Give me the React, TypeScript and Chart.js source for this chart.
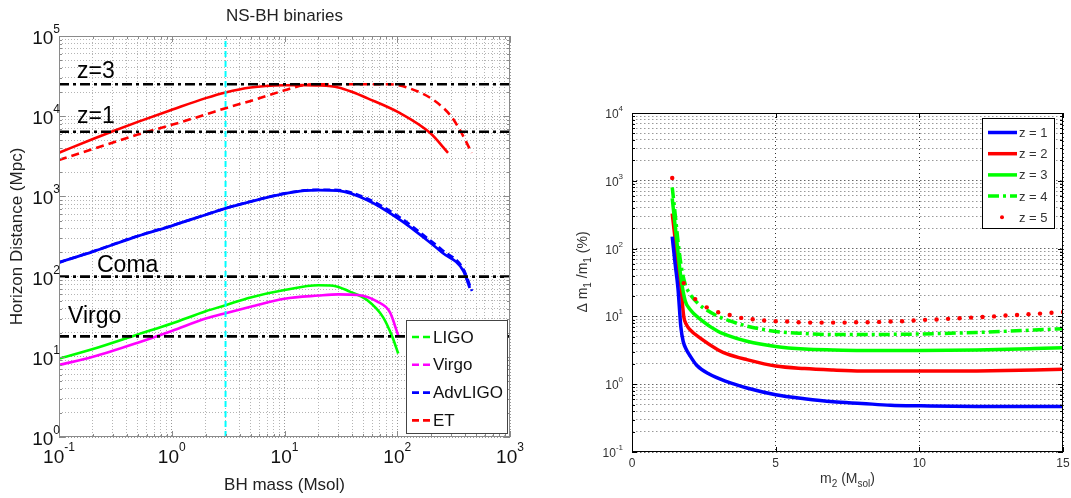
import React, { useEffect, useRef } from 'react';
import { Chart, registerables } from 'chart.js';

Chart.register(...registerables);

const FONT = '"Liberation Sans", Arial, Helvetica, sans-serif';

// ---------------- Left panel: NS-BH binaries ----------------
const leftTitle = 'NS-BH binaries';
const leftXLabel = 'BH mass (Msol)';
const leftYLabel = 'Horizon Distance (Mpc)';
const leftXExps = [-1, 0, 1, 2, 3];
const leftYExps = [0, 1, 2, 3, 4, 5];

// ET (red)
const etSolidMass = [0.1, 0.2, 0.3, 0.5, 1, 2, 3, 5, 10, 15, 20, 30, 40, 54, 106, 195, 282];
const etSolidDist = [3500, 5200, 6500, 8500, 12000, 16800, 19800, 22800, 24300, 24400, 24200, 22800, 20000, 16800, 10900, 6200, 3500];
const etDashMass = [0.1, 0.2, 0.5, 1, 2, 3, 5, 10, 15, 20, 50, 86, 120, 210, 300, 360, 458];
const etDashDist = [2850, 3900, 5900, 7800, 10500, 12600, 15500, 21000, 24500, 25000, 25000, 25000, 23000, 15900, 10000, 6700, 3500];

// AdvLIGO (blue)
const advSolidMass = [0.1, 0.2, 0.5, 1, 2, 3, 5, 10, 15, 20, 30, 54, 106, 183, 250, 385, 440];
const advSolidDist = [150, 205, 320, 430, 590, 710, 860, 1080, 1180, 1200, 1180, 900, 510, 286, 200, 118, 72];
const advDashMass = [0.1, 0.2, 0.5, 1, 2, 3, 5, 10, 15, 20, 30, 54, 106, 183, 250, 385, 460];
const advDashDist = [150, 206, 322, 432, 592, 712, 865, 1090, 1190, 1210, 1200, 940, 545, 305, 215, 125, 66];

// LIGO (green) and Virgo (magenta)
const ligoMass = [0.1, 0.2, 0.5, 1, 2, 3, 5, 10, 20, 27, 38, 54, 75, 90, 102];
const ligoDist = [9.5, 12.5, 19, 26, 37, 44, 55, 68, 78, 77, 65, 51, 31, 18, 11];
const virgoMass = [0.1, 0.2, 0.5, 1, 2, 3, 5, 10, 20, 30, 45, 66, 86, 102];
const virgoDist = [7.9, 10, 15, 21, 30, 35, 42, 53, 58, 60, 59, 49, 36, 18.5];

// Reference distances
const refNames = ['z=3', 'z=1', 'Coma', 'Virgo'];
const refDist = [25000, 6400, 100, 18];
const cutMass = 3;

const leftLegendNames = ['LIGO', 'Virgo', 'AdvLIGO', 'ET'];
const leftLegendColors = ['#00ff00', '#ff00ff', '#0000ff', '#ff0000'];

// ---------------- Right panel ----------------
const rightXLabelSegs = [{ t: 'm' }, { t: '2', sub: true }, { t: ' (M' }, { t: 'sol', sub: true }, { t: ')' }];
const rightYLabelSegs = [{ t: '\u0394 m' }, { t: '1', sub: true }, { t: ' /m' }, { t: '1', sub: true }, { t: ' (%)' }];
const rightXTicks = [0, 5, 10, 15];
const rightYExps = [-1, 0, 1, 2, 3, 4];

const z1M2 = [1.4, 1.5, 1.6, 1.7, 1.78, 1.9, 2.0, 2.25, 2.7, 3.3, 4, 5, 6, 7, 8, 9, 10, 12, 15];
const z1Err = [150, 60, 26, 7, 4.3, 3.2, 2.7, 1.9, 1.4, 1.09, 0.88, 0.7, 0.61, 0.55, 0.52, 0.49, 0.48, 0.47, 0.47];
const z2M2 = [1.4, 1.5, 1.6, 1.7, 1.8, 1.9, 2.0, 2.4, 3.0, 3.3, 4, 5, 6, 7, 8, 10, 12, 14, 15];
const z2Err = [330, 140, 55, 28, 10, 7.5, 6.5, 4.7, 3.2, 2.8, 2.3, 1.85, 1.7, 1.62, 1.57, 1.56, 1.57, 1.62, 1.66];
const z3M2 = [1.4, 1.5, 1.6, 1.7, 1.85, 2.0, 2.4, 3.0, 3.3, 4, 5, 6, 7, 8, 10, 12, 14, 15];
const z3Err = [550, 220, 90, 38, 17, 13, 8.9, 6.0, 5.3, 4.3, 3.6, 3.3, 3.2, 3.15, 3.15, 3.2, 3.35, 3.45];
const z4M2 = [1.4, 1.5, 1.6, 1.7, 1.85, 2.0, 2.3, 2.6, 3.0, 3.3, 4, 5, 6, 7, 8, 10, 12, 14, 15];
const z4Err = [800, 330, 130, 60, 30, 22, 15.5, 12.4, 10, 8.9, 7.2, 6.0, 5.6, 5.4, 5.4, 5.5, 5.8, 6.3, 6.6];
const z5M2 = [1.4, 1.8, 2.2, 2.6, 3.0, 3.4, 3.8, 4.2, 4.6, 5.0, 5.4, 5.8, 6.2, 6.6, 7.0, 7.4, 7.8, 8.2, 8.6, 9.0, 9.4, 9.8, 10.2, 10.6, 11.0, 11.4, 11.8, 12.2, 12.6, 13.0, 13.4, 13.8, 14.2, 14.6, 15.0];
const z5Err = [1100, 31, 18, 13.6, 11.5, 10.5, 9.5, 9.1, 8.7, 8.5, 8.4, 8.2, 8.1, 8.1, 8.1, 8.1, 8.2, 8.2, 8.3, 8.4, 8.5, 8.7, 8.9, 9.0, 9.2, 9.4, 9.6, 9.8, 10.0, 10.3, 10.5, 10.8, 11.0, 11.3, 11.6];

const rightLegendNames = ['z = 1', 'z = 2', 'z = 3', 'z = 4', 'z = 5'];
const rightLegendColors = ['#0000ff', '#ff0000', '#00ff00', '#00ff00', '#ff0000'];

// ---------------- helpers ----------------
const pts = (xs: number[], ys: number[]) => xs.map((x, i) => ({ x, y: ys[i] }));

function logTicks(exps: number[]) {
  const out: { value: number; major: boolean }[] = [];
  for (let i = 0; i < exps.length; i++) {
    const b = Math.pow(10, exps[i]);
    out.push({ value: b, major: true });
    if (i < exps.length - 1) for (let k = 2; k <= 9; k++) out.push({ value: k * b, major: false });
  }
  return out;
}

function drawPow(ctx: CanvasRenderingContext2D, e: number, x: number, y: number, align: string, big: number, small: number, raise: number) {
  const base = '10';
  const ex = String(e);
  ctx.font = `${big}px ${FONT}`;
  const wb = ctx.measureText(base).width;
  ctx.font = `${small}px ${FONT}`;
  const we = ctx.measureText(ex).width;
  let sx = x;
  if (align === 'center') sx = x - (wb + we) / 2;
  else if (align === 'right') sx = x - (wb + we);
  ctx.textAlign = 'left';
  ctx.textBaseline = 'alphabetic';
  ctx.font = `${big}px ${FONT}`;
  ctx.fillText(base, sx, y);
  ctx.font = `${small}px ${FONT}`;
  ctx.fillText(ex, sx + wb, y - raise);
}

function drawSegs(ctx: CanvasRenderingContext2D, segs: any[], x: number, y: number, size: number, small: number, drop: number) {
  const ws = segs.map((s) => {
    ctx.font = `${s.sub ? small : size}px ${FONT}`;
    return ctx.measureText(s.t).width;
  });
  const total = ws.reduce((a, b) => a + b, 0);
  let cx = x - total / 2;
  ctx.textAlign = 'left';
  ctx.textBaseline = 'alphabetic';
  segs.forEach((s, i) => {
    ctx.font = `${s.sub ? small : size}px ${FONT}`;
    ctx.fillText(s.t, cx, y + (s.sub ? drop : 0));
    cx += ws[i];
  });
}

function seg(ctx: CanvasRenderingContext2D, x1: number, y1: number, x2: number, y2: number) {
  ctx.beginPath();
  ctx.moveTo(x1, y1);
  ctx.lineTo(x2, y2);
  ctx.stroke();
}

const lineDs = (label: string, data: any[], color: string, width: number, dash: number[] = [], smooth = true) => ({
  label, data, borderColor: color, backgroundColor: color, borderWidth: width, borderDash: dash,
  showLine: true, pointRadius: 0, pointHoverRadius: 0, fill: false,
  cubicInterpolationMode: smooth ? 'monotone' : 'default', tension: 0,
});

// ---------------- left chart config ----------------
function leftConfig(): any {
  const datasets = [
    ...refDist.map((d, i) => lineDs(refNames[i], [{ x: 0.1, y: d }, { x: 1000, y: d }], '#000000', 2.6, [10, 4, 3, 4], false)),
    lineDs('cut', [{ x: cutMass, y: 1 }, { x: cutMass, y: 100000 }], '#00ffff', 2, [6, 4], false),
    lineDs('ET dashed', pts(etDashMass, etDashDist), '#ff0000', 2.6, [8, 5]),
    lineDs('ET', pts(etSolidMass, etSolidDist), '#ff0000', 2.6),
    lineDs('AdvLIGO dashed', pts(advDashMass, advDashDist), '#0000ff', 2.6, [7, 4]),
    lineDs('AdvLIGO', pts(advSolidMass, advSolidDist), '#0000ff', 2.8),
    lineDs('Virgo', pts(virgoMass, virgoDist), '#ff00ff', 2.6),
    lineDs('LIGO', pts(ligoMass, ligoDist), '#00ff00', 2.6),
  ];
  const gridColor = (c: any) => (c.tick && c.tick.major ? '#9a9a9a' : '#b4b4b4');
  const plugin = {
    id: 'leftDecor',
    afterDraw(chart: any) {
      const { ctx, chartArea: a, scales } = chart;
      const xs = scales.x, ys = scales.y;
      ctx.save();
      ctx.setLineDash([]);
      ctx.strokeStyle = '#8a8a8a';
      ctx.lineWidth = 1;
      ctx.strokeRect(a.left + 0.5, a.top + 0.5, a.right - a.left - 1, a.bottom - a.top - 1);
      xs.ticks.forEach((t: any) => {
        const px = Math.round(xs.getPixelForValue(t.value)) + 0.5;
        const len = t.major ? 6 : 3;
        seg(ctx, px, a.bottom, px, a.bottom - len);
        seg(ctx, px, a.top, px, a.top + len);
      });
      ys.ticks.forEach((t: any) => {
        const py = Math.round(ys.getPixelForValue(t.value)) + 0.5;
        const len = t.major ? 6 : 3;
        seg(ctx, a.left, py, a.left + len, py);
        seg(ctx, a.right, py, a.right - len, py);
      });
      ctx.fillStyle = '#111';
      leftXExps.forEach((e) => drawPow(ctx, e, xs.getPixelForValue(Math.pow(10, e)), a.bottom + 26, 'center', 19, 12, 12));
      leftYExps.forEach((e) => drawPow(ctx, e, a.left + 1, ys.getPixelForValue(Math.pow(10, e)) + 8, 'right', 19, 12, 11));
      ctx.fillStyle = '#222';
      ctx.textAlign = 'center';
      ctx.textBaseline = 'alphabetic';
      ctx.font = `17px ${FONT}`;
      ctx.fillText(leftTitle, (a.left + a.right) / 2, 21);
      ctx.font = `17px ${FONT}`;
      ctx.fillText(leftXLabel, (a.left + a.right) / 2, 490);
      ctx.save();
      ctx.translate(17, (a.top + a.bottom) / 2);
      ctx.rotate(-Math.PI / 2);
      ctx.textBaseline = 'middle';
      ctx.fillText(leftYLabel, 0, 0);
      ctx.restore();
      const dx = [18, 18, 38, 9];
      const dy = [-6, -9, -5, -13];
      ctx.fillStyle = '#000';
      ctx.font = `23px ${FONT}`;
      ctx.textAlign = 'left';
      refNames.forEach((n, i) => {
        ctx.fillText(n, a.left + dx[i], ys.getPixelForValue(refDist[i]) + dy[i]);
      });
      const lx = 406, ly = 320, lw = 101, lh = 113;
      ctx.fillStyle = '#fff';
      ctx.fillRect(lx, ly, lw, lh);
      ctx.strokeStyle = '#444';
      ctx.lineWidth = 1;
      ctx.strokeRect(lx + 0.5, ly + 0.5, lw, lh);
      ctx.font = `17px ${FONT}`;
      leftLegendNames.forEach((n, i) => {
        const yy = 337 + i * 27.8;
        ctx.strokeStyle = leftLegendColors[i];
        ctx.lineWidth = 2.6;
        ctx.setLineDash([7, 4]);
        seg(ctx, 412, yy, 431, yy);
        ctx.setLineDash([]);
        ctx.fillStyle = '#111';
        ctx.textBaseline = 'middle';
        ctx.fillText(n, 433, yy + 1);
      });
      ctx.restore();
    },
  };
  return {
    type: 'scatter',
    data: { datasets },
    plugins: [plugin],
    options: {
      responsive: false,
      animation: false,
      devicePixelRatio: 1,
      layout: { padding: { top: 36, right: 35, left: 0, bottom: 0 } },
      plugins: { legend: { display: false }, tooltip: { enabled: false }, title: { display: false } },
      scales: {
        x: {
          type: 'logarithmic', min: 0.1, max: 1000, position: 'bottom',
          afterBuildTicks: (s: any) => { s.ticks = logTicks(leftXExps); },
          afterFit: (s: any) => { s.height = 61; },
          ticks: { display: false },
          grid: { color: gridColor, lineWidth: 1, drawTicks: false, tickLength: 0 },
          border: { display: false, dash: [1, 2] },
        },
        y: {
          type: 'logarithmic', min: 1, max: 100000, position: 'left',
          afterBuildTicks: (s: any) => { s.ticks = logTicks(leftYExps); },
          afterFit: (s: any) => { s.width = 59; },
          ticks: { display: false },
          grid: { color: gridColor, lineWidth: 1, drawTicks: false, tickLength: 0 },
          border: { display: false, dash: [1, 2] },
        },
      },
    },
  };
}

// ---------------- right chart config ----------------
function rightConfig(): any {
  const datasets = [
    {
      label: 'z = 5', data: pts(z5M2, z5Err), showLine: false, pointRadius: 2.2, pointHoverRadius: 2.2,
      pointBackgroundColor: '#ff0000', pointBorderColor: '#ff0000', pointBorderWidth: 0, pointStyle: 'circle',
    },
    lineDs('z = 4', pts(z4M2, z4Err), '#00ff00', 3.5, [11, 4, 3, 4]),
    lineDs('z = 3', pts(z3M2, z3Err), '#00ff00', 3.5),
    lineDs('z = 1', pts(z1M2, z1Err), '#0000ff', 3.5),
    lineDs('z = 2', pts(z2M2, z2Err), '#ff0000', 3.5),
  ];
  const plugin = {
    id: 'rightDecor',
    afterDraw(chart: any) {
      const { ctx, chartArea: a, scales } = chart;
      const xs = scales.x, ys = scales.y;
      ctx.save();
      ctx.setLineDash([]);
      ctx.strokeStyle = '#000';
      ctx.lineWidth = 1;
      ctx.strokeRect(a.left + 0.5, a.top + 0.5, a.right - a.left - 1, a.bottom - a.top - 1);
      ys.ticks.forEach((t: any) => {
        const py = Math.round(ys.getPixelForValue(t.value)) + 0.5;
        const len = t.major ? 5 : 3;
        seg(ctx, a.left, py, a.left + len, py);
        seg(ctx, a.right, py, a.right - len, py);
      });
      xs.ticks.forEach((t: any) => {
        const px = Math.round(xs.getPixelForValue(t.value)) + 0.5;
        seg(ctx, px, a.bottom, px, a.bottom - 5);
        seg(ctx, px, a.top, px, a.top + 5);
      });
      ctx.fillStyle = '#333';
      rightYExps.forEach((e) => drawPow(ctx, e, a.left - 9, ys.getPixelForValue(Math.pow(10, e)) + 5, 'right', 12, 8, 7));
      ctx.font = `12px ${FONT}`;
      ctx.textAlign = 'center';
      ctx.textBaseline = 'alphabetic';
      rightXTicks.forEach((v) => ctx.fillText(String(v), xs.getPixelForValue(v), a.bottom + 15));
      drawSegs(ctx, rightXLabelSegs, (a.left + a.right) / 2, 483, 14, 10, 4);
      ctx.save();
      ctx.translate(42, 272);
      ctx.rotate(-Math.PI / 2);
      drawSegs(ctx, rightYLabelSegs, 0, 0, 14, 10, 4);
      ctx.restore();
      const lx = 437, ly = 118, lw = 72, lh = 110;
      ctx.fillStyle = '#fff';
      ctx.fillRect(lx, ly, lw, lh);
      ctx.strokeStyle = '#000';
      ctx.lineWidth = 1;
      ctx.strokeRect(lx + 0.5, ly + 0.5, lw, lh);
      ctx.font = `13px ${FONT}`;
      rightLegendNames.forEach((n, i) => {
        const yy = ly + 14.5 + i * 21.2;
        if (i < 4) {
          ctx.strokeStyle = rightLegendColors[i];
          ctx.lineWidth = 3.5;
          ctx.setLineDash(i === 3 ? [11, 4, 3, 4] : []);
          seg(ctx, lx + 6, yy, lx + 35, yy);
          ctx.setLineDash([]);
        } else {
          ctx.fillStyle = rightLegendColors[i];
          ctx.beginPath();
          ctx.arc(lx + 20, yy, 2, 0, Math.PI * 2);
          ctx.fill();
        }
        ctx.fillStyle = '#333';
        ctx.textAlign = 'left';
        ctx.textBaseline = 'middle';
        ctx.fillText(n, lx + 37, yy + 1);
      });
      ctx.restore();
    },
  };
  const yGrid = (c: any) => (c.tick && c.tick.major ? '#666' : '#999');
  return {
    type: 'scatter',
    data: { datasets },
    plugins: [plugin],
    options: {
      responsive: false,
      animation: false,
      devicePixelRatio: 1,
      layout: { padding: { top: 113, right: 8, left: 0, bottom: 0 } },
      plugins: { legend: { display: false }, tooltip: { enabled: false }, title: { display: false } },
      scales: {
        x: {
          type: 'linear', min: 0, max: 15, position: 'bottom',
          afterBuildTicks: (s: any) => { s.ticks = rightXTicks.map((v) => ({ value: v })); },
          afterFit: (s: any) => { s.height = 46; },
          ticks: { display: false },
          grid: { color: '#333', lineWidth: 1, drawTicks: false, tickLength: 0 },
          border: { display: false, dash: [1, 3] },
        },
        y: {
          type: 'logarithmic', min: 0.1, max: 10000, position: 'left',
          afterBuildTicks: (s: any) => { s.ticks = logTicks(rightYExps); },
          afterFit: (s: any) => { s.width = 87; },
          ticks: { display: false },
          grid: { color: yGrid, lineWidth: 1, drawTicks: false, tickLength: 0 },
          border: { display: false, dash: [1.5, 2.5] },
        },
      },
    },
  };
}

export default function App() {
  const leftRef = useRef<HTMLCanvasElement>(null);
  const rightRef = useRef<HTMLCanvasElement>(null);
  useEffect(() => {
    const lc = new Chart(leftRef.current as HTMLCanvasElement, leftConfig());
    const rc = new Chart(rightRef.current as HTMLCanvasElement, rightConfig());
    return () => {
      lc.destroy();
      rc.destroy();
    };
  }, []);
  return (
    <div style={{ position: 'fixed', left: 0, top: 0, width: 1071, height: 498, background: '#fff' }}>
      <canvas ref={leftRef} width={545} height={498} style={{ position: 'absolute', left: 0, top: 0, width: 545, height: 498 }} />
      <canvas ref={rightRef} width={526} height={498} style={{ position: 'absolute', left: 545, top: 0, width: 526, height: 498 }} />
    </div>
  );
}
